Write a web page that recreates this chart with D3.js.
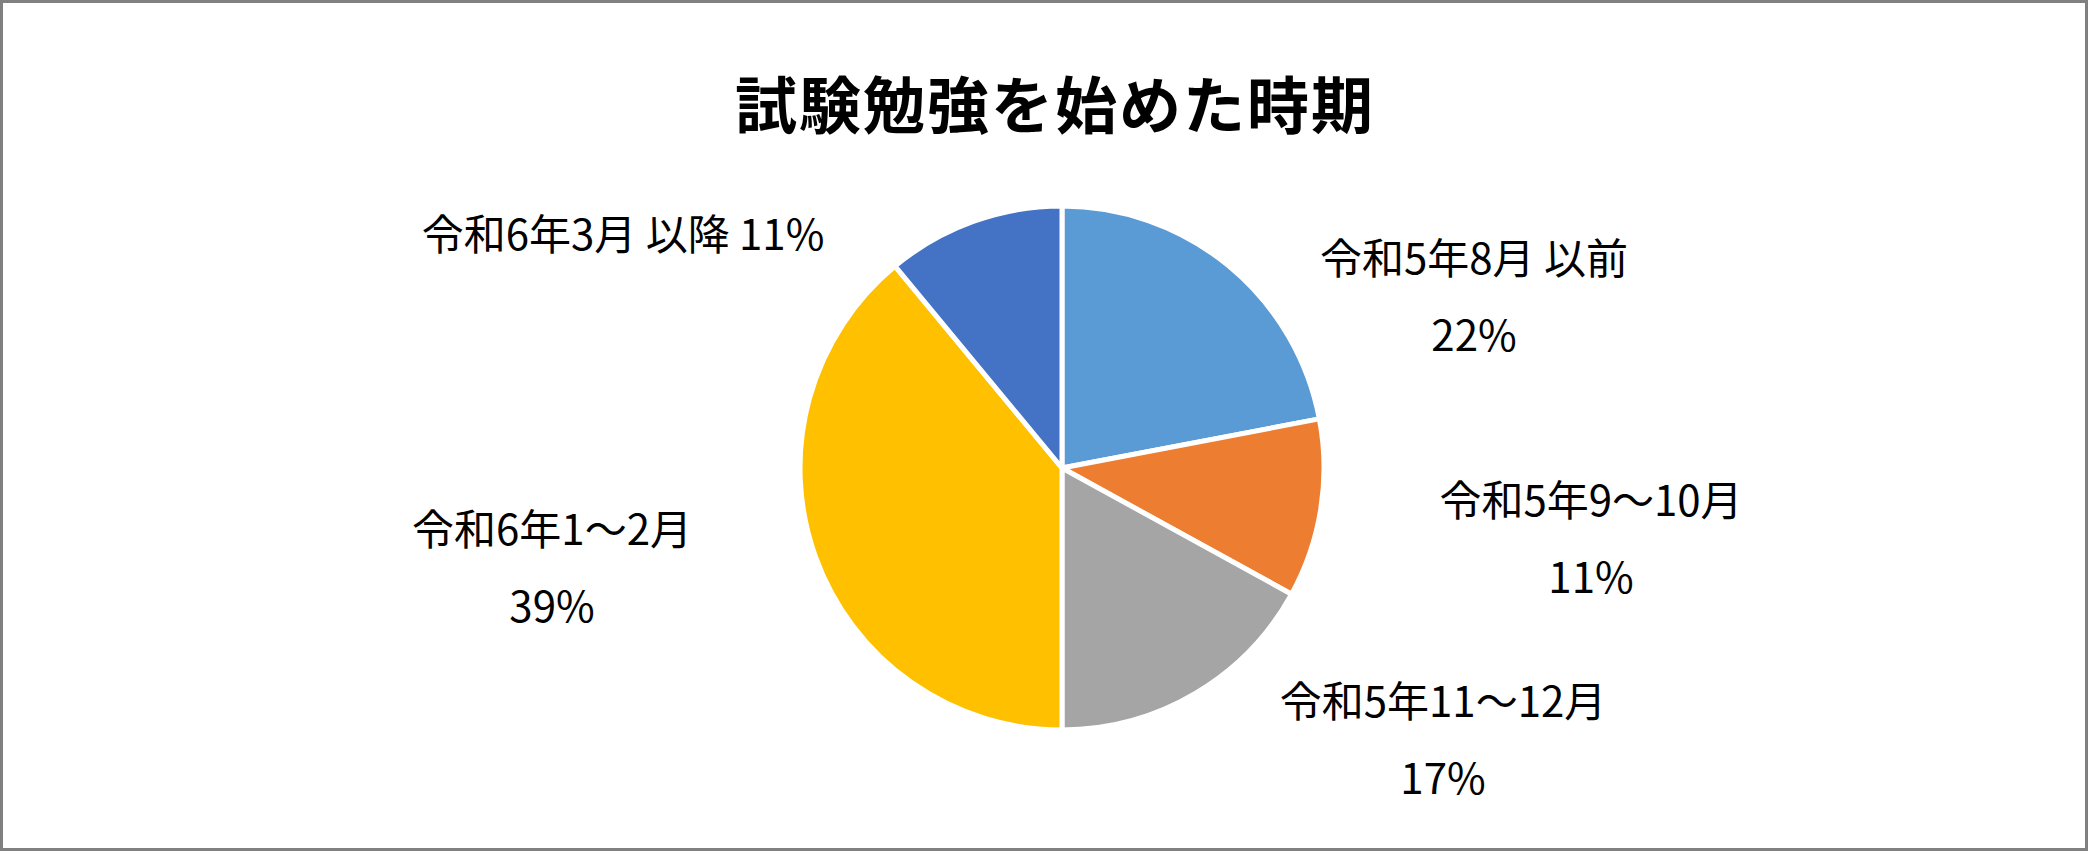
<!DOCTYPE html>
<html>
<head>
<meta charset="utf-8">
<script src="https://cdn.jsdelivr.net/npm/d3@7"></script>
<style>
html,body{margin:0;padding:0;background:#fff;}
svg{display:block;}
</style>
</head>
<body>
<script>
// ---- data ----
const title = "試験勉強を始めた時期";
const categories = ["令和5年8月 以前", "令和5年9～10月", "令和5年11～12月", "令和6年1～2月", "令和6年3月 以降"];
const values = [22, 11, 17, 39, 11];
const percentLabels = ["22%", "11%", "17%", "39%", "11%"];
const colors = ["#5B9BD5", "#ED7D31", "#A5A5A5", "#FFC000", "#4472C4"];

// ---- layout (not data) ----
const W = 2088, H = 851;
const cx = 1062, cy = 468, R = 262;
// label anchor points (centre of label block), relative to pie centre
const labelOffsets = [[412, -175], [529, 67], [381, 268], [-510, 96], [-439, -237]];
const singleLine = [false, false, false, false, true];
const lineGap = 77;

const svg = d3.select("body").append("svg").attr("width", W).attr("height", H);

svg.append("rect").attr("x", 1.5).attr("y", 1.5).attr("width", W - 3).attr("height", H - 3)
  .attr("fill", "#fff").attr("stroke", "#808080").attr("stroke-width", 3);

svg.append("text")
  .attr("x", 1055).attr("y", 102)
  .attr("text-anchor", "middle").attr("dominant-baseline", "central")
  .attr("font-family", "'Noto Sans CJK JP', sans-serif")
  .attr("font-weight", 700).attr("font-size", 62)
  .attr("letter-spacing", 2)
  .attr("fill", "#000")
  .text(title);

const pie = d3.pie().sort(null).value(d => d)(values);
const arc = d3.arc().innerRadius(0).outerRadius(R);

const g = svg.append("g").attr("transform", `translate(${cx},${cy})`);
g.selectAll("path").data(pie).join("path")
  .attr("d", arc)
  .attr("fill", (d, i) => colors[i])
  .attr("stroke", "#fff").attr("stroke-width", 5).attr("stroke-linejoin", "round");

const font = "'Noto Sans CJK JP', sans-serif";
categories.forEach((c, i) => {
  const [dx, dy] = labelOffsets[i];
  const t = g.append("text")
    .attr("text-anchor", "middle").attr("dominant-baseline", "central")
    .attr("font-family", font).attr("font-size", 42).attr("fill", "#000");
  if (singleLine[i]) {
    t.attr("x", dx).attr("y", dy).text(c + " " + percentLabels[i]);
  } else {
    t.append("tspan").attr("x", dx).attr("y", dy - lineGap / 2).text(c);
    t.append("tspan").attr("x", dx).attr("y", dy + lineGap / 2).text(percentLabels[i]);
  }
});
</script>
</body>
</html>
